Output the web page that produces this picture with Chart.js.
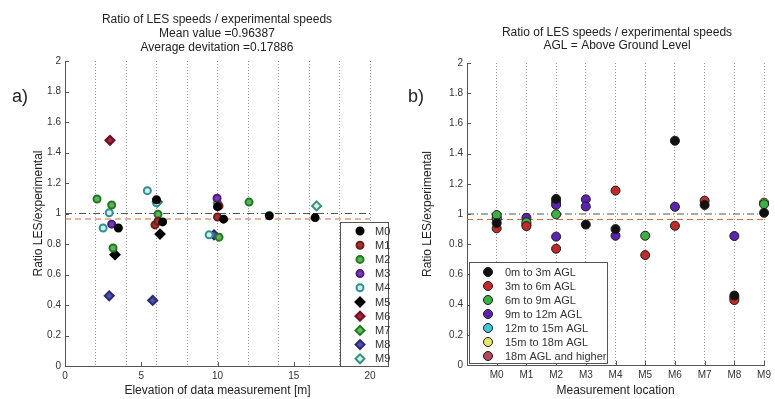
<!DOCTYPE html>
<html>
<head>
<meta charset="utf-8">
<script src="https://cdn.jsdelivr.net/npm/chart.js@4.4.0/dist/chart.umd.min.js"></script>
<style>
  body { margin: 0; background: #fff; }
  #wrap { position: relative; width: 775px; height: 399px; }
  #chartA { position: absolute; left: 0; top: 0; width: 390px; height: 399px; }
  #chartB { position: absolute; left: 390px; top: 0; width: 385px; height: 399px; }
</style>
</head>
<body>
<div id="wrap">
  <canvas id="chartA" width="390" height="399"></canvas>
  <canvas id="chartB" width="385" height="399"></canvas>
</div>
<script>
// ---- data: panel a) ratio vs elevation, one series per location ----
const locations = ['M0', 'M1', 'M2', 'M3', 'M4', 'M5', 'M6', 'M7', 'M8', 'M9'];
const elevation = [
  [3.5, 6.0, 6.4, 10.0, 10.4, 13.4, 16.4],   // M0
  [5.9, 6.1, 10.0, 10.1],                   // M1
  [2.1, 3.06, 3.15, 6.1, 10.1, 12.07],      // M2
  [3.06, 9.97],                             // M3
  [2.5, 2.9, 5.4, 6.0, 9.45, 10.0],         // M4
  [3.28, 6.23],                             // M5
  [2.95],                                   // M6
  [6.05],                                   // M7
  [2.9, 5.75, 9.77],                        // M8
  [16.5]                                    // M9
];
const ratioA = [
  [0.905, 1.09, 0.945, 1.045, 0.963, 0.985, 0.973],
  [0.925, 0.95, 0.977, 1.05],
  [1.095, 1.056, 0.774, 0.995, 0.845, 1.075],
  [0.93, 1.10],
  [0.905, 1.005, 1.15, 1.07, 0.86, 1.07],
  [0.73, 0.865],
  [1.48],
  [1.075],
  [0.46, 0.43, 0.86],
  [1.05]
];

// ---- data: panel b) ratio per location, grouped by height above ground ----
const aglBins = ['0m to 3m AGL', '3m to 6m AGL', '6m to 9m AGL', '9m to 12m AGL',
  '12m to 15m AGL', '15m to 18m AGL', '18m AGL and higher'];
const binLocation = [
  [0, 2, 3, 4, 6, 7, 8, 9],
  [0, 1, 2, 4, 5, 6, 7, 8],
  [0, 1, 2, 5, 8, 9],
  [1, 2, 2, 3, 3, 4, 6, 8],
  [0, 2],
  [0, 9],
  [1]
];
const binRatio = [
  [0.94, 1.10, 0.93, 0.90, 1.485, 1.06, 0.46, 1.008],
  [0.905, 0.92, 0.77, 1.155, 0.728, 0.922, 1.088, 0.43],
  [0.993, 0.945, 0.998, 0.856, 0.445, 1.065],
  [0.975, 1.06, 0.85, 1.097, 1.05, 0.856, 1.048, 0.854],
  [0.975, 1.08],
  [0.967, 1.075],
  [0.93]
];

const meanValue = 0.96387;
const avgDeviation = 0.17886;
const yTicks = [0, 0.2, 0.4, 0.6, 0.8, 1, 1.2, 1.4, 1.6, 1.8, 2];

// ---- styles ----
const locFill = ['#000000', '#a83232', '#62b062', '#7a3cb0', '#d4ecec', '#000000', '#a0283a', '#62c062', '#5050a8', '#d4efe8'];
const locEdge = ['#000000', '#6e1c1c', '#1f7a1f', '#4a1a80', '#2f9090', '#000000', '#6a1020', '#1f7a1f', '#2a2a70', '#3a9080'];
const locShape = ['circle', 'circle', 'circle', 'circle', 'circle', 'rectRot', 'rectRot', 'rectRot', 'rectRot', 'rectRot'];
const binFill = ['#111111', '#c02a2a', '#3cb043', '#5a23b0', '#3cc8d8', '#e8e86a', '#b0485e'];

const FONT = 'Liberation Sans, Arial, Helvetica, sans-serif';
const dotGrid = '#9a9a9a';
const axisCol = '#555555';
const tickFmt = v => String(Math.round(v * 10) / 10);

function refLines(x0, x1) {
  return [{
    type: 'line', data: [{x: x0, y: 1}, {x: x1, y: 1}],
    borderColor: '#4d5a4d', borderWidth: 1, borderDash: [7, 3, 1, 3],
    pointRadius: 0, order: 2
  }, {
    type: 'line', data: [{x: x0, y: meanValue}, {x: x1, y: meanValue}],
    borderColor: '#d0683a', borderWidth: 1, borderDash: [6, 4],
    pointRadius: 0, order: 2
  }];
}

function drawInwardTicks(chart, xValues) {
  const ctx = chart.ctx, a = chart.chartArea;
  const xs = chart.scales.x, ys = chart.scales.y;
  ctx.save();
  ctx.strokeStyle = axisCol;
  ctx.lineWidth = 1;
  ctx.beginPath();
  yTicks.forEach(v => {
    const py = Math.round(ys.getPixelForValue(v)) + 0.5;
    ctx.moveTo(a.left, py); ctx.lineTo(a.left + 4, py);
  });
  xValues.forEach(v => {
    const px = Math.round(xs.getPixelForValue(v)) + 0.5;
    ctx.moveTo(px, a.bottom); ctx.lineTo(px, a.bottom - 4);
  });
  ctx.stroke();
  ctx.restore();
}

function drawBoxLegend(chart, box, rows, markerX, textX, firstY, step) {
  const ctx = chart.ctx;
  ctx.save();
  ctx.fillStyle = '#fff';
  ctx.fillRect(box.x, box.y, box.w, box.h);
  ctx.strokeStyle = '#555';
  ctx.lineWidth = 1;
  ctx.strokeRect(box.x + 0.5, box.y + 0.5, box.w, box.h);
  ctx.font = '11px ' + FONT;
  ctx.textBaseline = 'middle';
  ctx.textAlign = 'left';
  rows.forEach((r, i) => {
    const y = firstY + i * step;
    ctx.fillStyle = r.fill;
    ctx.strokeStyle = r.edge;
    ctx.lineWidth = r.bw;
    Chart.helpers.drawPoint(ctx, {pointStyle: r.shape, radius: r.radius, borderWidth: r.bw, rotation: 0}, markerX, y);
    ctx.fillStyle = '#333';
    ctx.fillText(r.label, textX, y + 0.5);
  });
  ctx.restore();
}

function drawTitles(chart, lines, cx, firstY, step, tag, tagX) {
  const ctx = chart.ctx;
  ctx.save();
  ctx.fillStyle = '#222';
  ctx.font = '12px ' + FONT;
  ctx.textAlign = 'center';
  ctx.textBaseline = 'middle';
  lines.forEach((t, i) => ctx.fillText(t, cx, firstY + i * step));
  ctx.font = '18px ' + FONT;
  ctx.textAlign = 'left';
  ctx.fillText(tag, tagX, 97);
  ctx.restore();
}

// ---------------- panel a) ----------------
const dataA = locations.map((name, i) => ({
  label: name,
  data: elevation[i].map((x, j) => ({x: x, y: ratioA[i][j]})),
  pointStyle: locShape[i],
  backgroundColor: locFill[i],
  borderColor: locEdge[i],
  pointBorderWidth: 2,
  pointRadius: locShape[i] === 'circle' ? 3.5 : 4.5,
  showLine: false,
  order: 1
}));

new Chart(document.getElementById('chartA'), {
  type: 'scatter',
  data: { datasets: dataA.concat(refLines(0, 20)) },
  options: {
    responsive: false,
    animation: false,
    layout: { padding: { top: 61, right: 20, left: 0, bottom: 0 } },
    plugins: { legend: { display: false }, title: { display: false }, tooltip: { enabled: false } },
    scales: {
      x: {
        type: 'linear', min: 0, max: 20,
        ticks: { stepSize: 5, color: '#333', font: { size: 10, family: FONT }, padding: 4 },
        grid: { display: false, drawTicks: false },
        border: { color: axisCol },
        title: { display: true, text: 'Elevation of data measurement [m]', color: '#222',
                 font: { size: 12, family: FONT }, padding: { top: 0, bottom: 1 } },
        afterFit: s => { s.height = 33; }
      },
      xg: {
        type: 'linear', position: 'bottom', min: 0, max: 20,
        ticks: { display: false, stepSize: 2 },
        grid: { color: c => c.tick.value === 0 ? 'rgba(0,0,0,0)' : dotGrid, drawTicks: false, lineWidth: 1 },
        border: { display: false, dash: [1, 2] },
        afterFit: s => { s.height = 0; }
      },
      y: {
        min: 0, max: 2,
        ticks: { stepSize: 0.2, color: '#333', font: { size: 10, family: FONT }, padding: 4, callback: tickFmt },
        grid: { display: false, drawTicks: false },
        border: { color: axisCol },
        title: { display: true, text: 'Ratio LES/experimental', color: '#222',
                 font: { size: 12, family: FONT }, padding: { top: 31, bottom: 0 } },
        afterFit: s => { s.width = 65; }
      }
    }
  },
  plugins: [{
    id: 'decorA',
    afterDraw(chart) {
      drawInwardTicks(chart, [0, 5, 10, 15, 20]);
      drawTitles(chart, ['Ratio of LES speeds / experimental speeds',
        'Mean value =' + meanValue, 'Average devitation =' + avgDeviation], 217, 20, 14, 'a)', 12);
      const rows = locations.map((name, i) => ({
        label: name, fill: locFill[i], edge: locEdge[i], shape: locShape[i],
        radius: locShape[i] === 'circle' ? 3.5 : 4.5, bw: 2
      }));
      drawBoxLegend(chart, {x: 340, y: 222, w: 48, h: 144}, rows, 360, 375, 231, 14.2);
    }
  }]
});

// ---------------- panel b) ----------------
const dataB = aglBins.map((name, i) => ({
  label: name,
  data: binLocation[i].map((loc, j) => ({x: loc, y: binRatio[i][j]})),
  pointStyle: 'circle',
  backgroundColor: binFill[i],
  borderColor: '#1a1a1a',
  pointBorderWidth: 1,
  pointRadius: 4.5,
  showLine: false,
  clip: false,
  order: 1
}));

new Chart(document.getElementById('chartB'), {
  type: 'scatter',
  data: { datasets: dataB.concat(refLines(-1, 9)) },
  options: {
    responsive: false,
    animation: false,
    layout: { padding: { top: 63, right: 8, left: 0, bottom: 0 } },
    plugins: { legend: { display: false }, title: { display: false }, tooltip: { enabled: false } },
    scales: {
      x: {
        type: 'linear', min: -1, max: 9,
        ticks: { stepSize: 1, color: '#333', font: { size: 10, family: FONT }, padding: 4,
                 callback: v => (v >= 0 ? locations[v] : '') },
        grid: { display: false, drawTicks: false },
        border: { color: axisCol },
        title: { display: true, text: 'Measurement location', color: '#222',
                 font: { size: 12, family: FONT }, padding: { top: 0, bottom: 1 } },
        afterFit: s => { s.height = 34; }
      },
      xg: {
        type: 'linear', position: 'bottom', min: -1, max: 9,
        ticks: { display: false, stepSize: 1 },
        grid: { color: c => c.tick.value < 0 ? 'rgba(0,0,0,0)' : dotGrid, drawTicks: false, lineWidth: 1 },
        border: { display: false, dash: [1, 2] },
        afterFit: s => { s.height = 0; }
      },
      y: {
        min: 0, max: 2,
        ticks: { stepSize: 0.2, color: '#333', font: { size: 10, family: FONT }, padding: 4, callback: tickFmt },
        grid: { display: false, drawTicks: false },
        border: { color: axisCol },
        title: { display: true, text: 'Ratio LES/experimental', color: '#222',
                 font: { size: 12, family: FONT }, padding: { top: 30, bottom: 0 } },
        afterFit: s => { s.width = 77; }
      }
    }
  },
  plugins: [{
    id: 'decorB',
    afterDraw(chart) {
      drawInwardTicks(chart, locations.map((m, i) => i));
      drawTitles(chart, ['Ratio of LES speeds / experimental speeds',
        'AGL = Above Ground Level'], 227, 33, 13, 'b)', 18);
      const rows = aglBins.map((name, i) => ({
        label: name, fill: binFill[i], edge: '#1a1a1a', shape: 'circle', radius: 4.5, bw: 1
      }));
      drawBoxLegend(chart, {x: 79, y: 262, w: 138, h: 101}, rows, 98, 115, 272, 14);
    }
  }]
});
</script>
</body>
</html>
